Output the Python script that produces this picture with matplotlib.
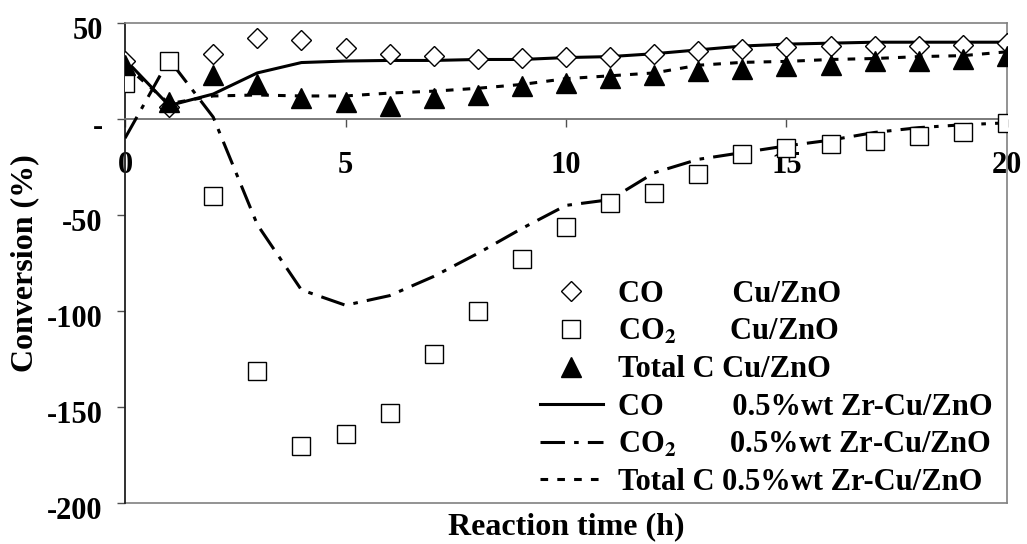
import matplotlib
matplotlib.use("Agg")
import matplotlib.pyplot as plt
from matplotlib.legend_handler import HandlerLine2D
from matplotlib.transforms import ScaledTranslation

plt.rcParams['font.family'] = ['Liberation Serif', 'DejaVu Serif']
plt.rcParams['font.weight'] = 'bold'
plt.rcParams['mathtext.fontset'] = 'stix'

# ---- data ----
hours = list(range(0, 21))
co_cu = [30.4, 6, 34, 42, 41, 37, 33.6, 33, 31, 32, 32.4, 32.4, 34, 35.3, 36.5, 37.5, 38, 38, 38.2, 38.8, 39.7]
co2_cu = [19, 30, -40, -131, -170.5, -164, -153, -122.6, -100, -73, -56, -43.6, -38.4, -28.9, -18, -15, -13, -11.5, -9, -7, -2]
totc_cu = [28, 9, 23, 18, 11, 9, 6.6, 11, 12.7, 17, 18.8, 21.4, 23, 24.8, 25.8, 27.5, 28, 30, 30, 31, 33]
co_zr = [31, 7, 13, 24, 29.4, 30.2, 30.5, 30.5, 31, 31, 32, 32.5, 34, 36, 38, 39, 39.5, 40, 40, 40, 40]
co2_zr = [-10, 31, 1, -55, -89, -97, -92, -82, -70, -57, -45, -42, -28, -21, -17.5, -14, -11, -7, -4.5, -3, -2]
totc_zr = [28, 8, 12, 12.5, 12, 12, 13.5, 14.5, 16, 18, 21, 22.5, 24, 28, 29.5, 30, 31, 31.5, 32.5, 33, 35]

x_ticks = [0, 5, 10, 15, 20]
y_ticks = [-200, -150, -100, -50, 0, 50]
legend_labels = ['CO         Cu/ZnO', r'CO$_\mathbf{2}$       Cu/ZnO', 'Total C Cu/ZnO',
                 'CO         0.5%wt Zr-Cu/ZnO', r'CO$_\mathbf{2}$       0.5%wt Zr-Cu/ZnO', 'Total C 0.5%wt Zr-Cu/ZnO']


class LeftMarker(HandlerLine2D):
    def get_xdata(self, legend, xdescent, ydescent, width, height, fontsize):
        xdata, _ = super().get_xdata(legend, xdescent, ydescent, width, height, fontsize)
        return xdata, [-xdescent + 0.25 * width]


fig = plt.figure(figsize=(10.27, 5.44), dpi=100)
ax = fig.add_axes([125/1027, 1-503/544, (1007-125)/1027, (503-23)/544])
ax.set_xlim(0, 20)
ax.set_ylim(-200, 50)

gray = '#808080'
# lines (0.5%wt Zr-Cu/ZnO)
l_co, = ax.plot(hours, co_zr, color='black', lw=2.2, ls='-', zorder=3)
l_co2, = ax.plot(hours, co2_zr, color='black', lw=2.2, ls=(0, (8, 3, 1.5, 3)), zorder=3)
l_tot, = ax.plot(hours, totc_zr, color='black', lw=2.2, ls=(0, (2.5, 3.0)), zorder=3)
# markers (Cu/ZnO)
m_co, = ax.plot(hours, co_cu, ls='none', marker='D', ms=10, mfc='white', mec='black', mew=1.0, zorder=4)
m_co2, = ax.plot(hours, co2_cu, ls='none', marker='s', ms=13, mfc='white', mec='black', mew=1.0, zorder=4)
m_tot, = ax.plot(hours, totc_cu, ls='none', marker='^', ms=15, mfc='black', mec='black', mew=1.0, zorder=4)

# frame
for s in ['top', 'right']:
    ax.spines[s].set_color(gray)
    ax.spines[s].set_linewidth(1.2)
ax.spines['left'].set_color('#202020')
ax.spines['left'].set_linewidth(1.3)
ax.spines['bottom'].set_position(('data', 0))
ax.spines['bottom'].set_color('#707070')
ax.spines['bottom'].set_linewidth(1.3)
ax.axhline(-200, color=gray, lw=1.2, clip_on=False, zorder=1)

ax.set_xticks(x_ticks)
ax.set_xticklabels([str(v) for v in x_ticks])
ax.set_yticks(y_ticks)
ax.set_yticklabels(['-' if v == 0 else str(v) for v in y_ticks])
ax.tick_params(axis='x', direction='out', length=6, width=1, color='#505050', pad=17, labelsize=22)
ax.tick_params(axis='y', direction='out', length=6, width=1, color='#505050', pad=10, labelsize=22)
for lab in ax.get_yticklabels():
    lab.set_fontweight('bold')
    lab.set_transform(lab.get_transform() + ScaledTranslation(0, -5/100, fig.dpi_scale_trans))
for lab in ax.get_xticklabels():
    lab.set_fontweight('bold')

ax.set_xlabel('Reaction time (h)', fontsize=23, fontweight='bold', labelpad=0)
ax.xaxis.set_label_coords(0.5, -0.02)
ax.set_ylabel('Conversion (%)', fontsize=23, fontweight='bold')
ax.yaxis.set_label_coords(-0.097, 0.5)

# legend
leg = ax.legend([m_co, m_co2, m_tot, l_co, l_co2, l_tot], legend_labels,
                loc='upper left', bbox_to_anchor=(540/1027, 1-280/544), bbox_transform=fig.transFigure,
                frameon=False, fontsize=22, handlelength=2.05, handletextpad=0.5,
                labelspacing=0.28, borderpad=0, borderaxespad=0, numpoints=1,
                handler_map={m_co: LeftMarker(), m_co2: LeftMarker(), m_tot: LeftMarker()})
for t in leg.get_texts():
    t.set_fontweight('bold')

fig.savefig('out.png', dpi=100)
